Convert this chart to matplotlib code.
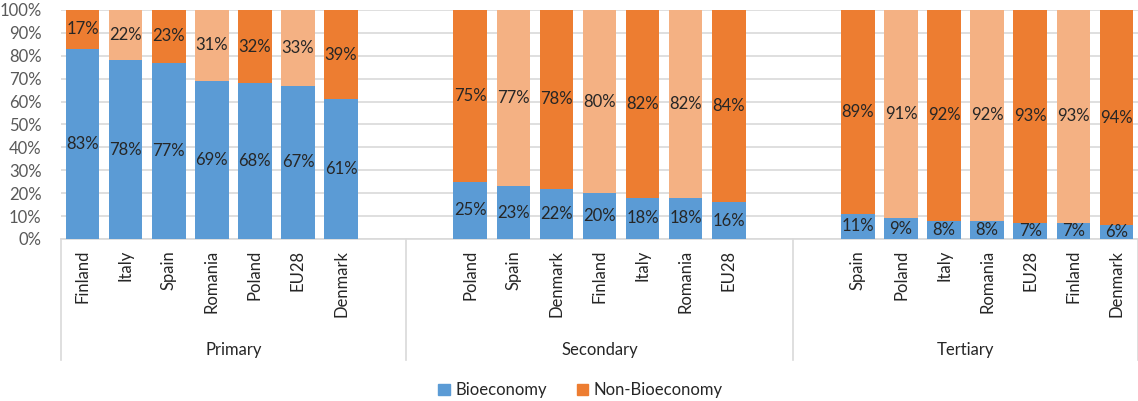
import numpy as np
import matplotlib.pyplot as plt
from matplotlib.patches import Patch
from matplotlib.transforms import blended_transform_factory

plt.rcParams['font.family'] = ['Lato', 'DejaVu Sans']

groups = ['Primary', 'Secondary', 'Tertiary']
primary_countries = ['Finland', 'Italy', 'Spain', 'Romania', 'Poland', 'EU28', 'Denmark']
secondary_countries = ['Poland', 'Spain', 'Denmark', 'Finland', 'Italy', 'Romania', 'EU28']
tertiary_countries = ['Spain', 'Poland', 'Italy', 'Romania', 'EU28', 'Finland', 'Denmark']

primary_bio = [83, 78, 77, 69, 68, 67, 61]
secondary_bio = [25, 23, 22, 20, 18, 18, 16]
tertiary_bio = [11, 9, 8, 8, 7, 7, 6]

BLUE = '#5B9BD5'
ORANGE = '#ED7D31'
LIGHT_ORANGE = '#F4B183'
TXT = '#262626'
GRID = '#D9D9D9'

# slot layout: blank slots pad the groups like the spreadsheet rows
group_starts = [0, 9, 18]
group_edges = [-0.5, 7.5, 16.5, 24.5]
countries = [primary_countries, secondary_countries, tertiary_countries]
bios = [primary_bio, secondary_bio, tertiary_bio]

fig = plt.figure(figsize=(11.38, 4.01), dpi=100)
ax = fig.add_axes([61 / 1138, 1 - 239 / 401, 1 - 61 / 1138, 229 / 401])

xpos, xlabels = [], []
for start, names, bio in zip(group_starts, countries, bios):
    x = np.arange(start, start + len(names))
    bio = np.array(bio) / 100
    non = 1 - bio
    top_colors = [ORANGE if i % 2 == 0 else LIGHT_ORANGE for i in range(len(names))]
    ax.bar(x, bio, width=0.78, color=BLUE, zorder=3)
    ax.bar(x, non, bottom=bio, width=0.78, color=top_colors, zorder=3)
    for xi, b, n in zip(x, bio, non):
        ax.text(xi, b / 2, f'{round(b * 100)}%', ha='center', va='center',
                fontsize=12, color=TXT, zorder=4)
        ax.text(xi, b + n / 2, f'{round(n * 100)}%', ha='center', va='center',
                fontsize=12, color=TXT, zorder=4)
    xpos.extend(x)
    xlabels.extend(names)

ax.set_xlim(-0.5, 24.5)
ax.set_ylim(0, 1)
ax.set_yticks(np.arange(0, 1.01, 0.1))
ax.set_yticklabels([f'{int(round(v * 100))}%' for v in np.arange(0, 1.01, 0.1)])
ax.tick_params(axis='y', length=0, pad=14, labelsize=12, labelcolor='#595959')
ax.set_xticks(xpos)
ax.set_xticklabels(xlabels, rotation=90, fontsize=12, color=TXT)
ax.tick_params(axis='x', length=0, pad=8)

ax.grid(axis='y', color=GRID, linewidth=1.2, zorder=0)
ax.set_axisbelow(True)
for side in ['top', 'right', 'left']:
    ax.spines[side].set_visible(False)
ax.spines['bottom'].set_color(GRID)
ax.spines['bottom'].set_linewidth(1.2)

# group separators and group names under the category labels
trans = blended_transform_factory(ax.transData, ax.transAxes)
for xe in group_edges:
    ax.plot([xe, xe], [0, -0.53], transform=trans, color=GRID, lw=1.2, clip_on=False)
for g, lo, hi in zip(groups, group_edges[:-1], group_edges[1:]):
    ax.text((lo + hi) / 2, -0.485, g, transform=trans, ha='center', va='center',
            fontsize=12, color=TXT)

handles = [Patch(color=BLUE, label='Bioeconomy'), Patch(color=ORANGE, label='Non-Bioeconomy')]
fig.legend(handles=handles, loc='center', bbox_to_anchor=(0.51, 0.027), ncol=2,
           frameon=False, fontsize=12, handlelength=0.7, handleheight=0.7,
           handletextpad=0.3, columnspacing=1.8, labelcolor=TXT)

fig.savefig('out.png', dpi=100)
